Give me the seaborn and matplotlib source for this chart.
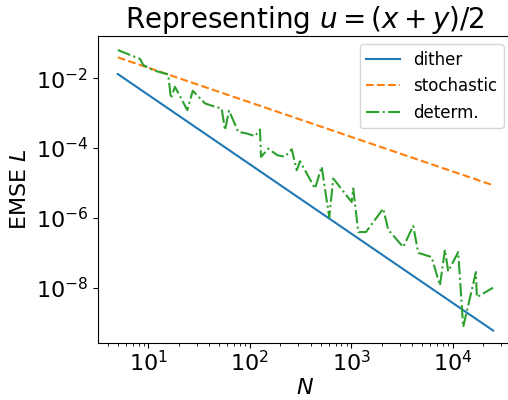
import numpy as np
import pandas as pd
import matplotlib
matplotlib.use("Agg")
import matplotlib.pyplot as plt
import seaborn as sns

# --- data ---
N_line = [5, 25000]
dither = [0.0133, 5.85e-10]
stochastic = [0.040, 8.6e-6]

N_det = [5, 8.3, 8.9, 11.6, 15.7, 16.7, 18.3, 24.2, 27.4, 36.2, 43.4, 52.8, 57,
         62.4, 77, 93.2, 112.5, 126, 129, 152, 187, 222, 259, 290, 313, 439, 511,
         607, 665, 1009, 1047, 1172, 1396, 2066, 2316, 3252, 4080, 4571, 6194,
         7480, 8380, 9030, 11330, 12680, 16930, 17300, 25000]
determ = [0.065, 0.0359, 0.0241, 0.0165, 0.0130, 0.00266, 0.00574, 0.00123,
          0.0044, 0.00191, 0.0016, 0.00136, 3.27e-4, 1.19e-3, 2.92e-4, 2.63e-4,
          2.2e-4, 3.42e-4, 5.58e-5, 9.6e-5, 6.25e-5, 5.66e-5, 9.3e-5, 2.32e-5,
          4.2e-5, 6.9e-6, 2.92e-5, 1.03e-6, 1.34e-5, 2.84e-6, 6.9e-6, 3.91e-7,
          3.91e-7, 1.84e-6, 4.52e-7, 1.45e-7, 5.9e-7, 9.9e-8, 7.5e-8, 1.15e-8,
          1.22e-7, 2.9e-8, 1.04e-7, 7.4e-10, 2.77e-8, 5.3e-9, 9.9e-9]

labels = ["dither", "stochastic", "determ."]
colors = ["#1f77b4", "#ff7f0e", "#2ca02c"]

fig = plt.figure(figsize=(5.08, 4.0), dpi=100)
ax = fig.add_axes([98 / 508, 57 / 400, 414 / 508, 307 / 400])

sns.lineplot(x=N_line, y=dither, ax=ax, color=colors[0], label=labels[0],
             linestyle="-", linewidth=1.5, estimator=None, sort=False)
sns.lineplot(x=N_line, y=stochastic, ax=ax, color=colors[1], label=labels[1],
             linestyle="--", linewidth=1.5, estimator=None, sort=False)
sns.lineplot(x=N_det, y=determ, ax=ax, color=colors[2], label=labels[2],
             linestyle="-.", linewidth=1.5, estimator=None, sort=False)

ax.set_xscale("log")
ax.set_yscale("log")
ax.set_xlim(3.19, 38400)
ax.set_ylim(2.57e-10, 0.164)

ax.tick_params(axis="both", which="major", labelsize=16)
ax.tick_params(axis="x", which="major", pad=1.5)
ax.set_xlabel("$N$", fontsize=16, labelpad=2)
ax.set_ylabel("EMSE $L$", fontsize=16)
ax.set_title("Representing $u=(x+y)/2$", fontsize=20)
ax.legend(loc="upper right", fontsize=12)

fig.savefig("out.png", dpi=100)
